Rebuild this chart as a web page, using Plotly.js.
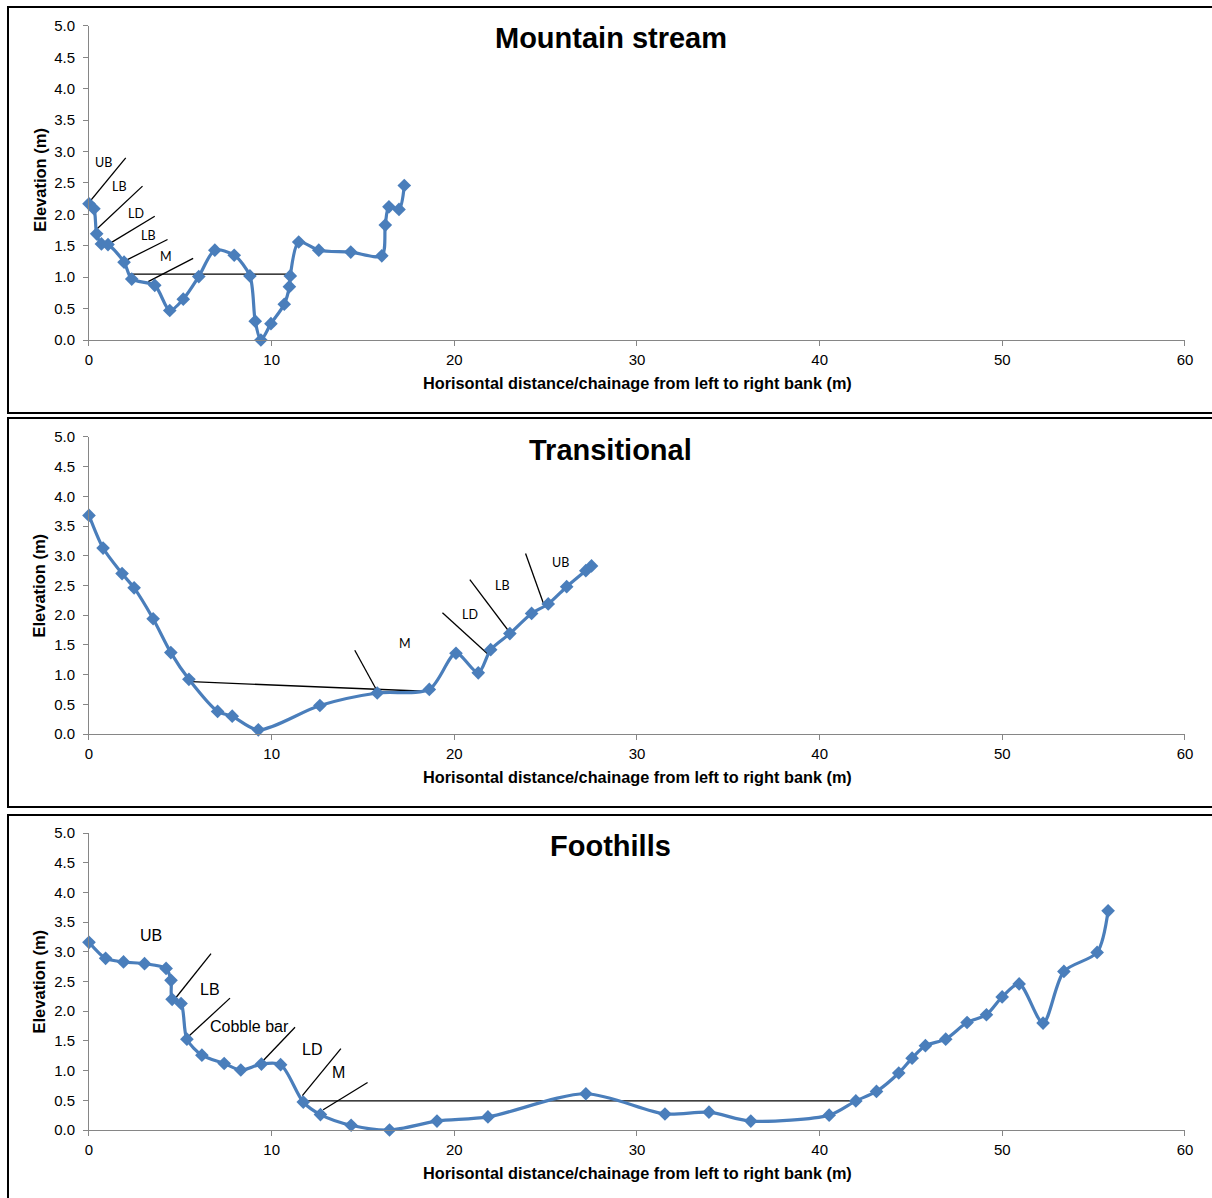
<!DOCTYPE html>
<html>
<head>
<meta charset="utf-8">
<script src="https://cdn.plot.ly/plotly-3.0.1.min.js"></script>
<style>
  html, body { margin: 0; padding: 0; background: #ffffff; }
  #chart { width: 1212px; height: 1198px; }
</style>
</head>
<body>
<div id="chart"></div>
<script>
// ---- Mountain stream cross-section ----
const mountainX = [0, 0.27, 0.42, 0.68, 1.04, 1.92, 2.34, 3.6, 4.42, 5.16, 6.01, 6.89, 7.95, 8.81, 9.1, 9.41, 9.96, 10.69, 10.97, 11.02, 11.48, 12.58, 14.33, 16.03, 16.22, 16.42, 16.97, 17.26];
const mountainY = [2.17, 2.09, 1.69, 1.53, 1.52, 1.24, 0.97, 0.87, 0.47, 0.65, 1.01, 1.43, 1.35, 1.02, 0.30, 0.0, 0.26, 0.57, 0.85, 1.02, 1.56, 1.43, 1.40, 1.34, 1.83, 2.12, 2.08, 2.46];
const mountainWaterX = [2.19, 10.8];
const mountainWaterY = [1.05, 1.05];
// pointer lines (segments separated by null)
const mountainPtrX = [0, 2.01, null, 0.40, 2.93, null, 1.10, 3.6, null, 1.83, 4.30, null, 3.24, 5.70];
const mountainPtrY = [2.19, 2.90, null, 1.76, 2.45, null, 1.53, 1.97, null, 1.24, 1.60, null, 0.93, 1.30];
const mountainLabels = ['UB', 'LB', 'LD', 'LB', 'M'];
const mountainLabelX = [0.77, 1.65, 2.6, 3.24, 4.2];
const mountainLabelY = [2.83, 2.45, 2.02, 1.66, 1.33];

// ---- Transitional cross-section ----
const transX = [0, 0.77, 1.81, 2.47, 3.51, 4.48, 5.47, 7.04, 7.84, 9.27, 12.64, 15.78, 18.63, 20.09, 21.31, 21.99, 23.04, 24.23, 25.14, 26.15, 27.2, 27.51];
const transY = [3.68, 3.13, 2.70, 2.46, 1.94, 1.37, 0.92, 0.38, 0.30, 0.07, 0.48, 0.69, 0.75, 1.36, 1.03, 1.42, 1.69, 2.03, 2.19, 2.48, 2.75, 2.83];
const transWaterX = [5.6, 18.4];
const transWaterY = [0.88, 0.72];
const transPtrX = [14.55, 15.78, null, 19.35, 21.86, null, 20.85, 23.13, null, 23.9, 24.9];
const transPtrY = [1.41, 0.72, null, 2.04, 1.34, null, 2.60, 1.67, null, 3.04, 2.18];
const transLabels = ['M', 'LD', 'LB', 'UB'];
const transLabelX = [17.3, 20.85, 22.64, 25.8];
const transLabelY = [1.52, 2.01, 2.50, 2.89];

// ---- Foothills cross-section ----
const footX = [0, 0.91, 1.89, 3.04, 4.22, 4.49, 4.55, 5.04, 5.36, 6.18, 7.4, 8.31, 9.44, 10.49, 11.73, 12.67, 14.35, 16.45, 19.05, 21.84, 27.2, 31.53, 33.94, 36.23, 40.52, 41.98, 43.11, 44.33, 45.06, 45.79, 46.9, 48.07, 49.13, 49.99, 50.92, 52.23, 53.37, 55.19, 55.79];
const footY = [3.16, 2.89, 2.83, 2.80, 2.72, 2.52, 2.20, 2.13, 1.53, 1.26, 1.12, 1.01, 1.11, 1.10, 0.47, 0.26, 0.08, 0.0, 0.15, 0.22, 0.61, 0.27, 0.30, 0.15, 0.25, 0.49, 0.65, 0.96, 1.21, 1.42, 1.53, 1.81, 1.94, 2.24, 2.46, 1.80, 2.67, 2.99, 3.69];
const footWaterX = [11.76, 42.05];
const footWaterY = [0.49, 0.49];
const footPtrX = [4.71, 6.68, null, 5.22, 7.72, null, 9.36, 11.28, null, 11.68, 13.79, null, 12.82, 15.25];
const footPtrY = [2.21, 2.97, null, 1.51, 2.22, null, 1.11, 1.73, null, 0.58, 1.37, null, 0.34, 0.80];
const footLabels = ['UB', 'LB', 'Cobble bar', 'LD', 'M'];
const footLabelX = [3.42, 6.62, 8.8, 12.22, 13.67];
const footLabelY = [3.28, 2.36, 1.75, 1.36, 0.97];

const panelTitles = ['Mountain stream', 'Transitional', 'Foothills'];
const xTitle = 'Horisontal distance/chainage from left to right bank (m)';
const yTitle = 'Elevation (m)';

const BLUE = '#4a7ebb';
const AXIS_GREY = '#868686';
const FONT = 'Liberation Sans, Arial, sans-serif';

const panels = [
  { x: mountainX, y: mountainY, wx: mountainWaterX, wy: mountainWaterY, px: mountainPtrX, py: mountainPtrY,
    lt: mountainLabels, lx: mountainLabelX, ly: mountainLabelY, lfont: { family: 'Lato, Open Sans, sans-serif', size: 12.5 } },
  { x: transX, y: transY, wx: transWaterX, wy: transWaterY, px: transPtrX, py: transPtrY,
    lt: transLabels, lx: transLabelX, ly: transLabelY, lfont: { family: 'Lato, Open Sans, sans-serif', size: 12.5 } },
  { x: footX, y: footY, wx: footWaterX, wy: footWaterY, px: footPtrX, py: footPtrY,
    lt: footLabels, lx: footLabelX, ly: footLabelY, lfont: { family: FONT, size: 16 } }
];

// plot-area domains in paper units (bottom-up)
const xDomain = [0.07343, 0.97772];
const yDomains = [[0.71619, 0.97830], [0.38731, 0.63523], [0.05676, 0.30467]];
// framing boxes around each panel
const boxes = [[0.6553, 0.99416], [0.32638, 0.65109], [-0.02, 0.3197]];
// title / axis-title vertical positions (paper)
const titleY = [0.9683, 0.6244, 0.2938];
const xTitleY = [0.6803, 0.35142, 0.02087];
const yTitleY = [0.8500, 0.51127, 0.18072];

const traces = [];
const annotations = [];
const shapes = [];
const layout = {
  width: 1212, height: 1198,
  margin: { l: 0, r: 0, t: 0, b: 0 },
  paper_bgcolor: '#ffffff', plot_bgcolor: '#ffffff',
  showlegend: false, hovermode: false,
  font: { family: FONT, size: 15, color: '#000000' }
};

panels.forEach((p, i) => {
  const n = i === 0 ? '' : String(i + 1);
  const xa = 'x' + n, ya = 'y' + n;

  layout['xaxis' + n] = {
    domain: xDomain, anchor: ya, range: [0, 60], dtick: 10, tick0: 0,
    showgrid: false, zeroline: false, showline: true, linecolor: AXIS_GREY, linewidth: 1,
    ticks: 'outside', ticklen: 5, tickcolor: AXIS_GREY, tickwidth: 1, ticklabelstandoff: 1,
    tickfont: { family: FONT, size: 15, color: '#000000' }, fixedrange: true
  };
  layout['yaxis' + n] = {
    domain: yDomains[i], anchor: xa, range: [0, 5], dtick: 0.5, tick0: 0, tickformat: '.1f',
    showgrid: false, zeroline: false, showline: true, linecolor: AXIS_GREY, linewidth: 1,
    ticks: 'outside', ticklen: 5, tickcolor: AXIS_GREY, tickwidth: 1, ticklabelstandoff: 5,
    tickfont: { family: FONT, size: 15, color: '#000000' }, fixedrange: true
  };

  // water surface line
  traces.push({ x: p.wx, y: p.wy, xaxis: xa, yaxis: ya, mode: 'lines', type: 'scatter',
    line: { color: '#000000', width: 1.3 }, cliponaxis: false });
  // feature pointer lines
  traces.push({ x: p.px, y: p.py, xaxis: xa, yaxis: ya, mode: 'lines', type: 'scatter',
    line: { color: '#000000', width: 1.3 }, connectgaps: false, cliponaxis: false });
  // surveyed profile
  traces.push({ x: p.x, y: p.y, xaxis: xa, yaxis: ya, mode: 'lines+markers', type: 'scatter',
    line: { color: BLUE, width: 3.2, shape: 'spline', smoothing: 0.8 },
    marker: { symbol: 'diamond', size: 10.5, color: BLUE, line: { width: 0 } }, cliponaxis: false });

  // feature labels
  p.lt.forEach((t, k) => {
    annotations.push({ text: t, x: p.lx[k], y: p.ly[k], xref: xa, yref: ya,
      showarrow: false, xanchor: 'center', yanchor: 'middle', font: Object.assign({ color: '#000000' }, p.lfont) });
  });

  // panel title
  annotations.push({ text: '<b>' + panelTitles[i] + '</b>', x: 0.5041, y: titleY[i], xref: 'paper', yref: 'paper',
    showarrow: false, xanchor: 'center', yanchor: 'middle', font: { family: FONT, size: 29, color: '#000000' } });
  // axis titles
  annotations.push({ text: '<b>' + xTitle + '</b>', x: 0.52558, y: xTitleY[i], xref: 'paper', yref: 'paper',
    showarrow: false, xanchor: 'center', yanchor: 'middle', font: { family: FONT, size: 16.3, color: '#000000' } });
  annotations.push({ text: '<b>' + yTitle + '</b>', x: 0.033, y: yTitleY[i], xref: 'paper', yref: 'paper',
    textangle: -90, showarrow: false, xanchor: 'center', yanchor: 'middle', font: { family: FONT, size: 16.5, color: '#000000' } });

  // panel frame
  shapes.push({ type: 'rect', xref: 'paper', yref: 'paper', x0: 0.0066, x1: 1.02, y0: boxes[i][0], y1: boxes[i][1],
    line: { color: '#000000', width: 2 }, fillcolor: 'rgba(0,0,0,0)', layer: 'above' });
});

layout.annotations = annotations;
layout.shapes = shapes;

Plotly.newPlot('chart', traces, layout, { displayModeBar: false, staticPlot: true });
</script>
</body>
</html>
